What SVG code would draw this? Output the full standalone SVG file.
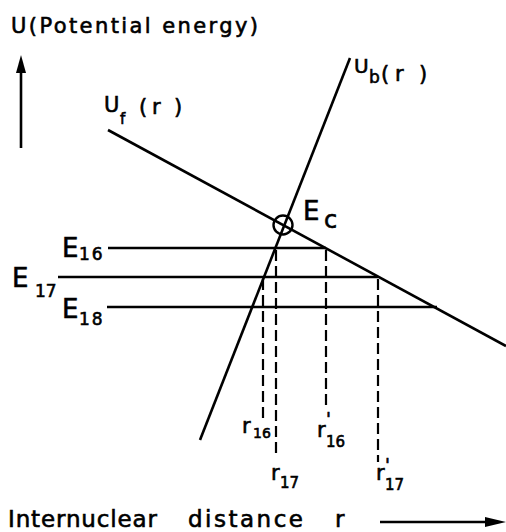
<svg xmlns="http://www.w3.org/2000/svg" width="506" height="532" viewBox="0 0 506 532">
<style>
text{font-family:"DejaVu Sans","Liberation Sans",Arial,sans-serif;fill:#000;stroke:#000;stroke-width:0.6}
.ln{stroke:#000;stroke-width:2.6;fill:none;stroke-linecap:butt}
.lv{stroke:#000;stroke-width:2.3;fill:none}
.ds{stroke:#000;stroke-width:2.2;fill:none;stroke-dasharray:11 5}
.big{font-size:26px}
.sub{font-size:17px}
.rr{font-size:21px}
.rs{font-size:15px}
.pr{font-size:18px}
</style>
<rect width="506" height="532" fill="#fff"/>
<g id="axes">
<line class="ln" x1="21" y1="148" x2="21" y2="68"/>
<polygon points="21,55 16,73 26,73" fill="#000"/>
<text x="11" y="33" font-size="21" textLength="247" lengthAdjust="spacing">U(Potential energy)</text>
<line class="ln" x1="380" y1="522" x2="490" y2="522"/>
<polygon points="506,522 485,517 485,527" fill="#000"/>
<text x="8" y="527" font-size="23" textLength="149" lengthAdjust="spacing">Internuclear</text>
<text x="188" y="527" font-size="23" textLength="115" lengthAdjust="spacing">distance</text>
<text x="335" y="527" font-size="23">r</text>
</g>
<g id="curves">
<line class="ln" x1="108" y1="130" x2="506" y2="346"/>
<line class="ln" x1="350" y1="58" x2="200" y2="440"/>
<circle cx="283" cy="225" r="9.5" fill="none" stroke="#000" stroke-width="2.4"/>
</g>
<g id="levels">
<line class="lv" x1="108" y1="248" x2="326" y2="248"/>
<line class="lv" x1="58" y1="277" x2="378" y2="277"/>
<line class="lv" x1="107" y1="307" x2="437" y2="307"/>
</g>
<g id="dashes">
<line class="ds" x1="263" y1="279" x2="263" y2="418"/>
<line class="ds" x1="276" y1="250" x2="276" y2="457"/>
<line class="ds" x1="326" y1="250" x2="326" y2="410"/>
<line class="ds" x1="378" y1="279" x2="378" y2="462"/>
</g>
<g id="labels">
<text font-size="21"><tspan x="104" y="112">U</tspan><tspan x="120" y="124" font-size="15">f</tspan><tspan x="139" y="114">(</tspan><tspan x="152" y="114">r</tspan><tspan x="174" y="114">)</tspan></text>
<text font-size="21"><tspan x="354" y="73" font-size="20">U</tspan><tspan x="369" y="83" font-size="17">b</tspan><tspan x="381" y="81">(</tspan><tspan x="395" y="81">r</tspan><tspan x="419" y="81">)</tspan></text>
<text class="big"><tspan x="303" y="220">E</tspan><tspan x="324" y="228" font-size="24">c</tspan></text>
<text class="big"><tspan x="62" y="257">E</tspan><tspan x="79" y="260" class="sub" letter-spacing="2">16</tspan></text>
<text class="big"><tspan x="12" y="287">E</tspan><tspan x="35" y="297" class="sub">17</tspan></text>
<text class="big"><tspan x="62" y="318">E</tspan><tspan x="79" y="325" class="sub" letter-spacing="2">18</tspan></text>
<text class="rr"><tspan x="242" y="433">r</tspan><tspan x="253" y="438" font-size="14">16</tspan></text>
<text class="rr"><tspan x="317" y="437">r</tspan><tspan x="326" y="425" class="pr">'</tspan><tspan x="326" y="447" class="rs">16</tspan></text>
<text class="rr"><tspan x="271" y="480">r</tspan><tspan x="280" y="488" class="rs">17</tspan></text>
<text class="rr"><tspan x="376" y="480">r</tspan><tspan x="385" y="471" class="pr">'</tspan><tspan x="385" y="490" class="rs">17</tspan></text>
</g>
</svg>
